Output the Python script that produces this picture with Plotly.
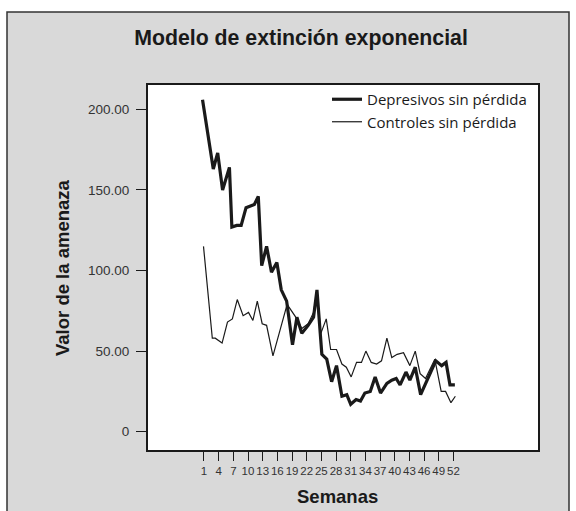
import plotly.graph_objects as go

# Weekly threat values per group (week position, value)
dep_weeks = [0.7, 2.9, 3.8, 4.8, 6.2, 6.7, 7.7, 8.6, 9.6, 10.4, 11.3, 12.1, 12.8,
             13.8, 14.8, 15.9, 16.8, 17.9, 19.1, 20.0, 21.0, 22.3, 23.4, 24.1,
             25.1, 26.1, 27.1, 28.1, 29.2, 30.2, 31.0, 32.1, 33.0, 33.9, 35.0,
             36.0, 37.1, 38.4, 39.4, 40.3, 41.1, 42.3, 43.1, 44.2, 45.3, 48.4,
             49.6, 50.5, 51.3, 52.3]
dep_values = [206, 163, 173, 150, 164, 127, 128, 128, 139, 140, 141, 146, 103,
              115, 99, 105, 88, 81, 54, 71, 61, 66, 71, 88,
              48, 45, 31, 41, 22, 23, 17, 20, 19, 24, 25,
              34, 24, 30, 32, 33, 29, 37, 32, 40, 23, 44,
              41, 43, 29, 29]

ctl_weeks = [0.9, 2.7, 3.3, 4.7, 5.8, 6.8, 7.8, 9.0, 10.1, 11.0, 11.9, 12.9,
             13.8, 15.1, 18.0, 20.0, 21.0, 22.3, 23.4, 24.1, 24.9, 26.0, 26.9,
             28.1, 29.2, 30.1, 31.1, 32.2, 33.2, 34.1, 35.2, 36.3, 37.3, 38.4,
             39.4, 40.5, 41.8, 43.1, 44.2, 45.2, 46.3, 48.2, 49.5, 50.4, 51.5,
             52.4]
ctl_values = [115, 58, 58, 55, 68, 70, 82, 72, 74, 69, 81, 67,
              66, 47, 79, 70, 64, 67, 74, 87, 61, 70, 51,
              51, 42, 40, 34, 43, 43, 50, 43, 42, 44, 58,
              46, 48, 49, 41, 50, 36, 33, 45, 25, 25, 18,
              22]

week_ticks = list(range(1, 53, 3))
y_ticks = [0, 50, 100, 150, 200]
y_tick_text = ["0", "50.00", "100.00", "150.00", "200.00"]

INK = "#1a1a1a"
PANEL = "#d9d9d9"
SANS = "Arial, Liberation Sans, sans-serif"

fig = go.Figure()
fig.add_trace(go.Scatter(
    x=dep_weeks, y=dep_values, mode="lines", name="Depresivos sin pérdida",
    line=dict(color=INK, width=3.2)))
fig.add_trace(go.Scatter(
    x=ctl_weeks, y=ctl_values, mode="lines", name="Controles sin pérdida",
    line=dict(color=INK, width=1.2)))

W, H = 576, 511
L, R, T, B = 148, 38, 85, 61
pw, ph = W - L - R, H - T - B


def px(xp):
    return (xp - L) / pw


def py(yp):
    return (H - B - yp) / ph


shapes = [
    # white margin strips around the grey panel
    dict(type="rect", xref="paper", yref="paper", x0=px(-5), x1=px(7),
         y0=py(H + 5), y1=py(-5), fillcolor="white", line=dict(width=0), layer="below"),
    dict(type="rect", xref="paper", yref="paper", x0=px(-5), x1=px(W + 5),
         y0=py(12), y1=py(-5), fillcolor="white", line=dict(width=0), layer="below"),
    dict(type="rect", xref="paper", yref="paper", x0=px(569), x1=px(W + 5),
         y0=py(H + 5), y1=py(-5), fillcolor="white", line=dict(width=0), layer="below"),
    # panel frame
    dict(type="rect", xref="paper", yref="paper", x0=px(7), x1=px(569),
         y0=py(H + 5), y1=py(12), line=dict(color="#333333", width=1.5)),
]

fig.update_layout(
    width=W, height=H,
    margin=dict(l=L, r=R, t=T, b=B),
    paper_bgcolor=PANEL,
    plot_bgcolor="white",
    shapes=shapes,
    showlegend=True,
    legend=dict(x=px(327), y=py(83), xanchor="left", yanchor="top",
                bgcolor="rgba(0,0,0,0)", borderwidth=0,
                font=dict(family="Open Sans, Noto Sans, sans-serif", size=15, color=INK),
                itemwidth=30, tracegroupgap=0),
    title=dict(text="Modelo de extinción exponencial", x=301 / W, y=1 - 38 / H,
               xref="container", yref="container", xanchor="center", yanchor="middle",
               font=dict(family=SANS, size=21.3, color=INK, weight="bold")),
    annotations=[
        dict(text="Semanas", xref="paper", yref="paper", x=px(337), y=py(496),
             xanchor="center", yanchor="middle", showarrow=False,
             font=dict(family=SANS, size=18.5, color=INK, weight="bold")),
        dict(text="Valor de la amenaza", xref="paper", yref="paper", x=px(62), y=py(268),
             xanchor="center", yanchor="middle", showarrow=False, textangle=-90,
             font=dict(family=SANS, size=18.5, color=INK, weight="bold")),
    ],
)

fig.update_xaxes(
    range=[-10.45, 69.3], tickvals=week_ticks, ticktext=[str(t) for t in week_ticks],
    tickangle=0, ticks="outside", ticklen=9, tickwidth=1, tickcolor=INK,
    showgrid=False, zeroline=False, showline=True, mirror=True,
    linewidth=2, linecolor=INK,
    tickfont=dict(family=SANS, size=11.5, color="#333333"))
fig.update_yaxes(
    range=[-11.35, 215.1], tickvals=y_ticks, ticktext=y_tick_text,
    ticks="outside", ticklen=10, tickwidth=1, tickcolor=INK, ticklabelstandoff=4,
    showgrid=False, zeroline=False, showline=True, mirror=True,
    linewidth=2, linecolor=INK,
    tickfont=dict(family=SANS, size=13.5, color="#333333"))

fig.write_html("out.html")
